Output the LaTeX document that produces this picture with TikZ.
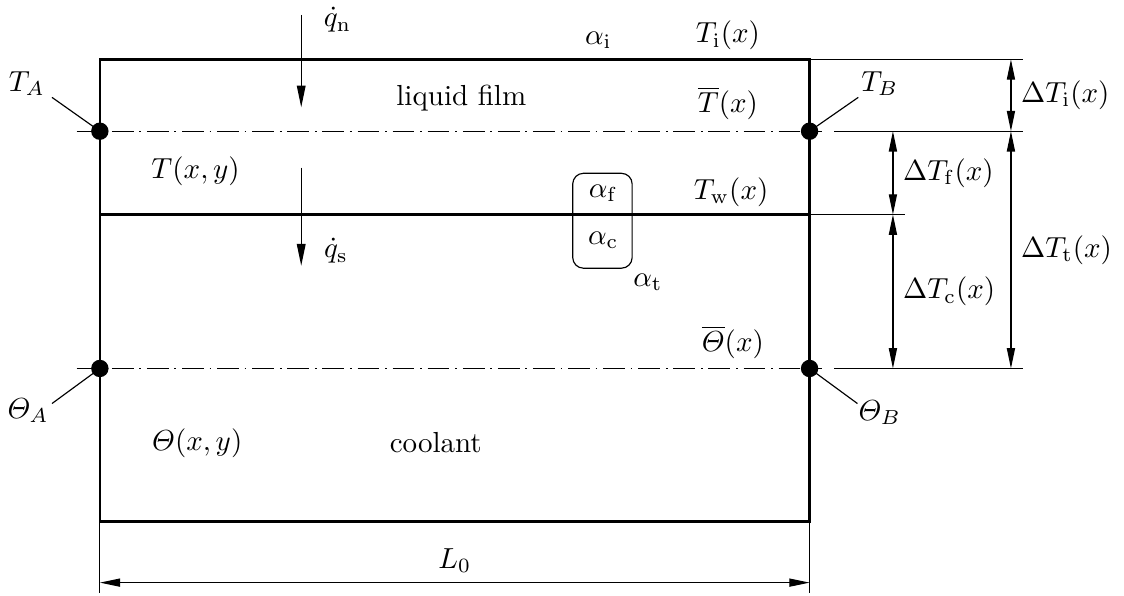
\documentclass[tikz,border=0pt]{standalone}
\usepackage{amsmath}
\usepackage{amssymb}
\usepackage{tikz}
\usetikzlibrary{arrows.meta, positioning}

\tikzset{
	wall/.style={line width=0.8pt},
	meanline/.style={line width=0.4pt, dash pattern=on 7.5pt off 2pt on 0.6pt off 2pt},
	helpline/.style={line width=0.4pt},
	dimline/.style={line width=0.4pt, {Triangle[length=7pt,width=2.8pt]}-{Triangle[length=7pt,width=2.8pt]}},
	fluxarrow/.style={line width=0.4pt, -{Triangle[length=7.5pt,width=3pt]}},
	refpoint/.style={circle, fill, inner sep=0pt, minimum size=6pt},
}

\begin{document}
\begin{tikzpicture}
			\useasboundingbox (-1.21, -0.9) rectangle (12.41, 6.32);
			% Domain, interface and reference points:
			\coordinate (SW) at (0, 0);
			\coordinate (NE) at (8.6, 5.6);
			\coordinate (SE) at (8.6, 0);
			\coordinate (WL) at (0, 3.72);
			\coordinate (WR) at (8.6, 3.72);
			\draw[wall] (SW) rectangle (NE);
			\draw[wall] (WL) -- (WR);
			\coordinate (film0) at (-0.28, 4.73);
			\coordinate (film1) at (8.75, 4.73);
			\coordinate (cool0) at (-0.28, 1.855);
			\coordinate (cool1) at (8.75, 1.855);
			\draw[meanline] (film0) -- (film1);
			\draw[meanline] (cool0) -- (cool1);
			% Extension lines:
			\coordinate (extI) at (11.18, 5.6);
			\coordinate (extF) at (8.9, 4.73);
			\coordinate (extF1) at (11.18, 4.73);
			\coordinate (extW) at (9.76, 3.72);
			\coordinate (extC) at (8.9, 1.855);
			\coordinate (extC1) at (11.18, 1.855);
			\draw[helpline] (NE) -- (extI);
			\draw[helpline] (extF) -- (extF1);
			\draw[helpline] (WR) -- (extW);
			\draw[helpline] (extC) -- (extC1);
			\coordinate (extL0) at (0, -0.86);
			\coordinate (extL1) at (8.6, -0.86);
			\draw[helpline] (SW) -- (extL0);
			\draw[helpline] (SE) -- (extL1);
			% Dimensions:
			\coordinate (dI0) at (11.04, 5.6);
			\coordinate (dI1) at (11.04, 4.73);
			\coordinate (dT1) at (11.04, 1.855);
			\coordinate (dF0) at (9.61, 4.73);
			\coordinate (dF1) at (9.61, 3.72);
			\coordinate (dC1) at (9.61, 1.855);
			\draw[dimline] (dI0) -- node[right]{$\Delta T_\mathrm{i}(x)$} (dI1);
			\draw[dimline] (dI1) -- node[right]{$\Delta T_\mathrm{t}(x)$} (dT1);
			\draw[dimline] (dF0) -- node[right]{$\Delta T_\mathrm{f}(x)$} (dF1);
			\draw[dimline] (dF1) -- node[right]{$\Delta T_\mathrm{c}(x)$} (dC1);
			\coordinate (dL0) at (0, -0.74);
			\coordinate (dL1) at (8.6, -0.74);
			\draw[dimline] (dL0) -- node[above]{$L_0$} (dL1);
			% Heat fluxes:
			\coordinate (qn0) at (2.44, 6.14);
			\coordinate (qn1) at (2.44, 5.02);
			\coordinate (qs0) at (2.44, 4.29);
			\coordinate (qs1) at (2.44, 3.10);
			\draw[fluxarrow] (qn0) -- (qn1);
			\draw[fluxarrow] (qs0) -- (qs1);
			\node (qn) at (2.88, 6.08){$\dot{q}_\mathrm{n}$};
			\node (qs) at (2.86, 3.28){$\dot{q}_\mathrm{s}$};
			% Heat transfer coefficients:
			\node (af) at (6.10, 3.98){$\alpha_\mathrm{f}$};
			\node (ac) at (6.10, 3.41){$\alpha_\mathrm{c}$};
			\coordinate (box0) at (5.73, 3.07);
			\coordinate (box1) at (6.45, 4.22);
			\draw[helpline, rounded corners=0.13cm] (box0) rectangle (box1);
			\node (at) at (6.64, 2.90){$\alpha_\mathrm{t}$};
			\node (ai) at (6.04, 5.83){$\alpha_\mathrm{i}$};
			% Temperatures:
			\node (Ti) at (7.61, 5.89){$T_\mathrm{i}(x)$};
			\node (Tm) at (7.61, 5.07){$\overline{T}(x)$};
			\node (Tw) at (7.65, 3.99){$T_\mathrm{w}(x)$};
			\node (Thm) at (7.67, 2.17){$\overline{\varTheta}(x)$};
			\node (Txy) at (1.16, 4.25){$T(x,y)$};
			\node (Thxy) at (1.18, 0.945){$\varTheta(x,y)$};
			\node (film) at (4.38, 5.13){liquid film};
			\node (cool) at (4.07, 0.96){coolant};
			% Corner points with leaders:
			\node[refpoint] (A) at (0, 4.73){};
			\node[refpoint] (B) at (8.6, 4.73){};
			\node[refpoint] (C) at (0, 1.855){};
			\node[refpoint] (D) at (8.6, 1.855){};
			\node (TA) at (-0.885, 5.31){$T_A$};
			\node (TB) at (9.45, 5.31){$T_B$};
			\node (ThA) at (-0.87, 1.345){$\varTheta_A$};
			\node (ThB) at (9.45, 1.32){$\varTheta_B$};
			\coordinate (lTA) at (-0.58, 5.14);
			\coordinate (lTB) at (9.19, 5.14);
			\coordinate (lThA) at (-0.58, 1.43);
			\coordinate (lThB) at (9.18, 1.43);
			\draw[helpline] (lTA) -- (A.center);
			\draw[helpline] (lTB) -- (B.center);
			\draw[helpline] (lThA) -- (C.center);
			\draw[helpline] (lThB) -- (D.center);
		\end{tikzpicture}
\end{document}
